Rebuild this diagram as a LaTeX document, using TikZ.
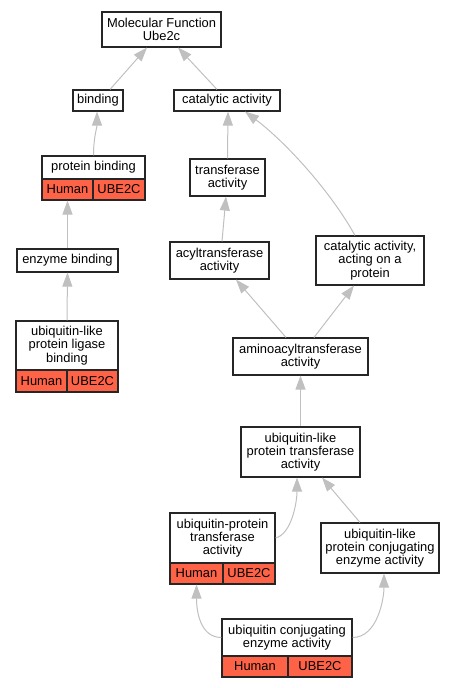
\documentclass[tikz,border=0pt]{standalone}
\usepackage{fontspec}
\setmainfont{Liberation Sans}
\usetikzlibrary{arrows.meta}
\definecolor{edgegray}{RGB}{192,192,192}
\definecolor{boxred}{RGB}{255,99,71}
\begin{document}
\begin{tikzpicture}[x=1pt,y=-1pt,
  box/.style={draw=black!85, line width=1.1pt, fill=white, inner sep=0pt, align=center,
    font=\fontsize{12.9}{13.3}\selectfont},
  redbox/.style={box, fill=boxred},
  edge/.style={draw=edgegray, line width=1pt, -{Triangle[length=14pt,width=10pt]}}]
\useasboundingbox (0,0) rectangle (455,688);
% nodes
\node[box, minimum width=119pt, minimum height=35pt] (mf) at (161.5,29.5) {Molecular Function\\Ube2c};
\node[box, minimum width=50pt, minimum height=21pt] (bind) at (98,100.5) {binding};
\node[box, minimum width=106pt, minimum height=21pt] (cat) at (227,100.5) {catalytic activity};
\node[box, minimum width=103pt, minimum height=23pt] (pb) at (93.5,167.5) {protein binding};
\node[redbox, minimum width=51pt, minimum height=21pt] (pbH) at (67.5,189.5) {Human};
\node[redbox, minimum width=52pt, minimum height=21pt] (pbU) at (119,189.5) {UBE2C};
\node[box, minimum width=101pt, minimum height=23pt] (eb) at (67.5,260.5) {enzyme binding};
\node[box, minimum width=102pt, minimum height=49pt] (ulb) at (67,345.5) {ubiquitin-like\\protein ligase\\binding};
\node[redbox, minimum width=51pt, minimum height=22pt] (ulbH) at (41.5,381) {Human};
\node[redbox, minimum width=51pt, minimum height=22pt] (ulbU) at (92.5,381) {UBE2C};
\node[box, minimum width=75pt, minimum height=37pt] (tr) at (227.5,177.5) {transferase\\activity};
\node[box, minimum width=99pt, minimum height=37pt] (acyl) at (219.5,260.5) {acyltransferase\\activity};
\node[box, minimum width=108pt, minimum height=49pt] (cap) at (370,260.5) {catalytic activity,\\acting on a\\protein};
\node[box, minimum width=135pt, minimum height=37pt] (amino) at (300.5,356.5) {aminoacyltransferase\\activity};
\node[box, minimum width=119pt, minimum height=50pt] (ult) at (300.5,452) {ubiquitin-like\\protein transferase\\activity};
\node[box, minimum width=105pt, minimum height=50pt] (upt) at (222.5,538) {ubiquitin-protein\\transferase\\activity};
\node[redbox, minimum width=53pt, minimum height=21pt] (uptH) at (196.5,573.5) {Human};
\node[redbox, minimum width=52pt, minimum height=21pt] (uptU) at (249,573.5) {UBE2C};
\node[box, minimum width=118pt, minimum height=50pt] (ulc) at (380,548) {ubiquitin-like\\protein conjugating\\enzyme activity};
\node[box, minimum width=130pt, minimum height=37pt] (uce) at (287,637.5) {ubiquitin conjugating\\enzyme activity};
\node[redbox, minimum width=66pt, minimum height=21pt] (uceH) at (255,666.5) {Human};
\node[redbox, minimum width=64pt, minimum height=21pt] (uceU) at (320,666.5) {UBE2C};
% edges
\draw[edge] ([xshift=12pt]bind.north) -- ([xshift=-14.5pt]mf.south);
\draw[edge] ([xshift=-10pt]cat.north) -- ([xshift=16.5pt]mf.south);
\draw[edge] (pb.north) .. controls +(0,-18) and +(0,16) .. ([xshift=-1pt]bind.south);
\draw[edge] (tr.north) -- ([xshift=1pt]cat.south);
\draw[edge] ([xshift=-15pt]cap.north) .. controls +(-25,-45) and +(40,30) .. ([xshift=18pt]cat.south);
\draw[edge] (eb.north) -- (pbH.south);
\draw[edge] (ulb.north) -- (eb.south);
\draw[edge] ([xshift=2.5pt]acyl.north) -- ([xshift=-1.5pt]tr.south);
\draw[edge] ([xshift=-14.5pt]amino.north) -- ([xshift=16.5pt]acyl.south);
\draw[edge] ([xshift=13.5pt]amino.north) -- ([xshift=-16pt]cap.south);
\draw[edge] (ult.north) -- (amino.south);
\draw[edge] (upt.east) .. controls +(16,-4) and +(0,25) .. ([xshift=-3.5pt]ult.south);
\draw[edge] ([xshift=-20pt]ulc.north) -- ([xshift=21.5pt]ult.south);
\draw[edge] (uce.west) .. controls +(-22,0) and +(0,25) .. (uptH.south);
\draw[edge] (uce.east) .. controls +(25,0) and +(0,25) .. ([xshift=4pt]ulc.south);
\end{tikzpicture}
\end{document}
